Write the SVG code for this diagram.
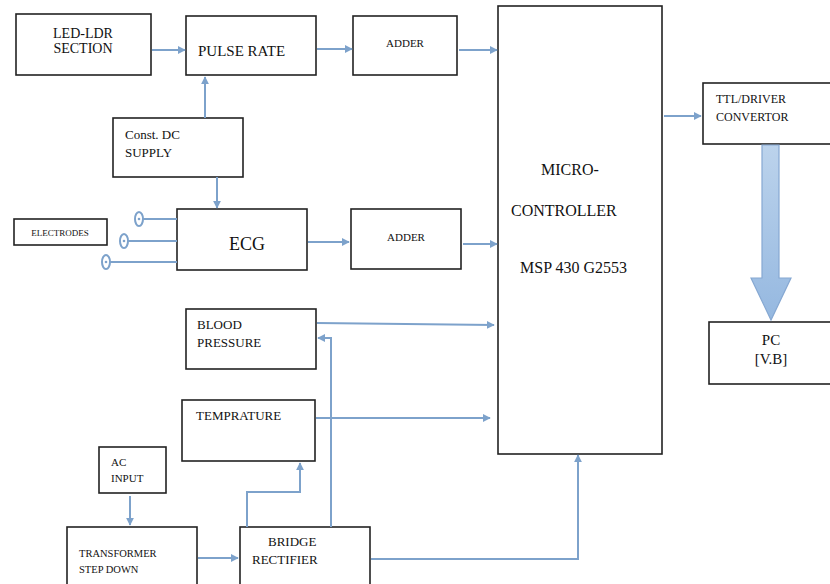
<svg xmlns="http://www.w3.org/2000/svg" width="830" height="584" viewBox="0 0 830 584">
<defs>
<marker id="ah" viewBox="0 0 10 10" refX="9" refY="5" markerWidth="4" markerHeight="4" orient="auto" markerUnits="strokeWidth">
<path d="M0,0 L10,5 L0,10 z" fill="#7da2cb"/>
</marker>
<linearGradient id="bg" x1="0" y1="0" x2="0" y2="1">
<stop offset="0" stop-color="#bcd3ec"/>
<stop offset="1" stop-color="#95b8e0"/>
</linearGradient>
</defs>
<style>
.box{fill:#fff;stroke:#222;stroke-width:1.6}
.c{fill:none;stroke:#7da2cb;stroke-width:2}
.el{fill:#fff;stroke:#7da2cb;stroke-width:2}
</style>
<rect width="830" height="584" fill="#fff"/>
<g font-family="Liberation Serif, DejaVu Serif, serif" fill="#111">
<g id="led-ldr"><rect class="box" x="16" y="14" width="135" height="61"/>
<text x="83" y="38" font-size="14" text-anchor="middle">LED-LDR</text>
<text x="83" y="53" font-size="14" text-anchor="middle">SECTION</text></g>
<g id="pulse-rate"><rect class="box" x="186" y="16" width="130" height="59"/>
<text x="198" y="56" font-size="15">PULSE RATE</text></g>
<g id="const-dc"><rect class="box" x="113" y="118" width="130" height="59"/>
<text x="125" y="139" font-size="13">Const. DC</text>
<text x="125" y="157" font-size="13">SUPPLY</text></g>
<g id="adder1"><rect class="box" x="353" y="16" width="104" height="59"/>
<text x="405" y="47" font-size="11" text-anchor="middle">ADDER</text></g>
<g id="micro"><rect class="box" x="498" y="6" width="164" height="448"/>
<text x="541" y="175" font-size="16">MICRO-</text>
<text x="511" y="216" font-size="16">CONTROLLER</text>
<text x="520" y="273" font-size="16">MSP 430 G2553</text></g>
<g id="electrodes"><rect class="box" x="14" y="219" width="93" height="26"/>
<text x="60" y="236" font-size="9" text-anchor="middle">ELECTRODES</text></g>
<g id="ecg"><rect class="box" x="177" y="209" width="130" height="61"/>
<text x="247" y="250" font-size="18" text-anchor="middle">ECG</text></g>
<g id="adder2"><rect class="box" x="351" y="209" width="110" height="60"/>
<text x="406" y="241" font-size="11" text-anchor="middle">ADDER</text></g>
<g id="blood-pressure"><rect class="box" x="186" y="309" width="130" height="60"/>
<text x="197" y="329" font-size="13">BLOOD</text>
<text x="197" y="347" font-size="13">PRESSURE</text></g>
<g id="temprature"><rect class="box" x="182" y="400" width="133" height="61"/>
<text x="196" y="420" font-size="13">TEMPRATURE</text></g>
<g id="ac-input"><rect class="box" x="99" y="447" width="67" height="46"/>
<text x="111" y="466" font-size="11">AC</text>
<text x="111" y="482" font-size="11">INPUT</text></g>
<g id="transformer"><rect class="box" x="67" y="527" width="130" height="62"/>
<text x="79" y="557" font-size="10.5">TRANSFORMER</text>
<text x="79" y="573" font-size="10.5">STEP DOWN</text></g>
<g id="bridge"><rect class="box" x="240" y="527" width="130" height="62"/>
<text x="268" y="546" font-size="13">BRIDGE</text>
<text x="252" y="564" font-size="13">RECTIFIER</text></g>
<g id="ttl"><rect class="box" x="703" y="83" width="130" height="61"/>
<text x="716" y="103" font-size="12">TTL/DRIVER</text>
<text x="716" y="121" font-size="12">CONVERTOR</text></g>
<g id="pc"><rect class="box" x="709" y="322" width="124" height="62"/>
<text x="771" y="345" font-size="15" text-anchor="middle">PC</text>
<text x="771" y="364" font-size="15" text-anchor="middle">[V.B]</text></g>
</g>
<g id="connectors">
<path class="c" d="M152,50 H185" marker-end="url(#ah)"/>
<path class="c" d="M205,118 V77" marker-end="url(#ah)"/>
<path class="c" d="M217,177 V208" marker-end="url(#ah)"/>
<path class="c" d="M317,49 H352" marker-end="url(#ah)"/>
<path class="c" d="M459,50 H497" marker-end="url(#ah)"/>
<path class="c" d="M308,242 H349" marker-end="url(#ah)"/>
<path class="c" d="M463,244 H497" marker-end="url(#ah)"/>
<path class="c" d="M143,219 H177"/>
<path class="c" d="M128,241 H177"/>
<path class="c" d="M110,262 H177"/>
<ellipse class="el" cx="139" cy="219" rx="4" ry="7"/>
<ellipse class="el" cx="124" cy="241" rx="4" ry="7"/>
<ellipse class="el" cx="106" cy="262" rx="4" ry="7"/>
<circle cx="139" cy="219" r="1.3" fill="#7da2cb"/>
<circle cx="124" cy="241" r="1.3" fill="#7da2cb"/>
<circle cx="106" cy="262" r="1.3" fill="#7da2cb"/>
<path class="c" d="M317,323 L494,325" marker-end="url(#ah)"/>
<path class="c" d="M331,527 V338 H318" marker-end="url(#ah)"/>
<path class="c" d="M316,418 H490" marker-end="url(#ah)"/>
<path class="c" d="M130,496 V525" marker-end="url(#ah)"/>
<path class="c" d="M198,558 H238" marker-end="url(#ah)"/>
<path class="c" d="M247,527 V492 H300 V463" marker-end="url(#ah)"/>
<path class="c" d="M371,559 H578 V455" marker-end="url(#ah)"/>
<path class="c" d="M664,116 H701" marker-end="url(#ah)"/>
<path d="M762,145 H779 V278 H791 L771,320 L751,278 H762 Z" fill="url(#bg)" stroke="#86a8d2" stroke-width="1.2"/>
</g>
</svg>
